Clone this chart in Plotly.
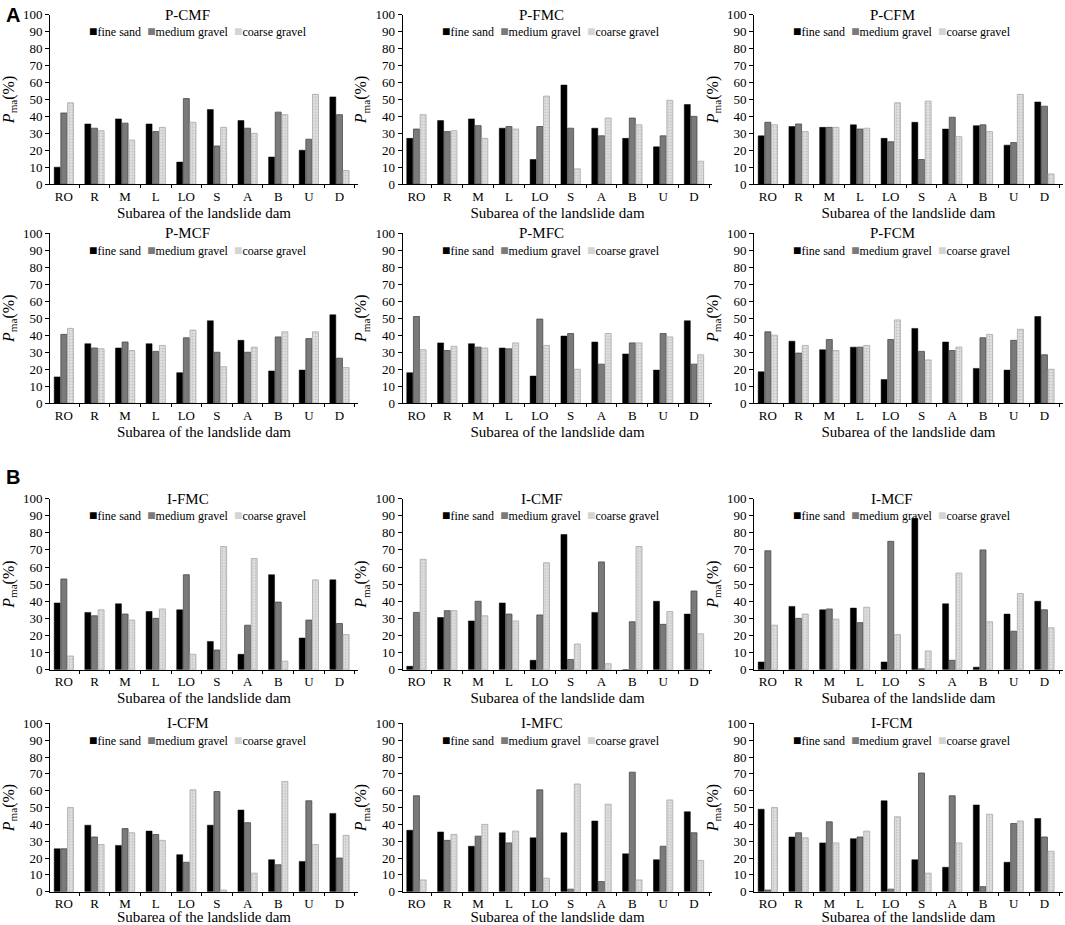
import plotly.graph_objects as go

# subareas of the dam (x categories)
subareas = ["RO", "R", "M", "L", "LO", "S", "A", "B", "U", "D"]
series_names = ["fine sand", "medium gravel", "coarse gravel"]

# --- A: P-series ---
p_cmf_fine = [10, 35.5, 38.5, 35.5, 13, 44, 37.5, 16, 20, 51.5]
p_cmf_medium = [42, 33, 36, 31, 50.5, 22.5, 33, 42.5, 26.5, 41]
p_cmf_coarse = [48, 31.5, 26, 33.5, 36.5, 33.5, 30, 41, 53, 8]

p_fmc_fine = [27, 37.5, 38.5, 33, 14.5, 58.5, 33, 27, 22, 47]
p_fmc_medium = [32.5, 31, 34.5, 34, 34, 33, 28.5, 39, 28.5, 40]
p_fmc_coarse = [41, 31.5, 27, 32.5, 52, 9, 39, 35, 49.5, 13.5]

p_cfm_fine = [28.5, 34, 33.5, 35, 27, 36.5, 32.5, 34.5, 23, 48.5]
p_cfm_medium = [36.5, 35.5, 33.5, 32.5, 25, 14.5, 39.5, 35, 24.5, 46]
p_cfm_coarse = [35, 31, 33.5, 33, 48, 49, 28, 31, 53, 6]

p_mcf_fine = [15.5, 35, 32.5, 35, 18, 48.5, 37, 19, 19.5, 52]
p_mcf_medium = [40.5, 32.5, 36, 30.5, 38.5, 30, 30, 39, 38, 26.5]
p_mcf_coarse = [44, 32, 31, 34, 43, 21.5, 33, 42, 42, 21]

p_mfc_fine = [18, 35.5, 35, 32.5, 16, 39.5, 36, 29, 19.5, 48.5]
p_mfc_medium = [51, 31, 33, 32, 49.5, 41, 23, 35.5, 41, 23]
p_mfc_coarse = [31.5, 33.5, 32.5, 35.5, 34, 20, 41, 35.5, 39, 28.5]

p_fcm_fine = [18.5, 36.5, 31.5, 33, 14, 44, 36, 20.5, 19.5, 51]
p_fcm_medium = [42, 29.5, 37.5, 33, 37.5, 30.5, 31, 38.5, 37, 28.5]
p_fcm_coarse = [40, 34, 31, 34, 49, 25.5, 33, 40.5, 43.5, 20]

# --- B: I-series ---
i_fmc_fine = [39, 33.5, 38.5, 34, 35, 16.5, 9, 55.5, 18.5, 52.5]
i_fmc_medium = [53, 31.5, 32.5, 30, 55.5, 11.5, 26, 39.5, 29, 27]
i_fmc_coarse = [8, 35, 29, 35.5, 9, 72, 65, 5, 52.5, 20.5]

i_cmf_fine = [2, 30.5, 28.5, 39, 5.5, 79, 33.5, 0, 40, 32.5]
i_cmf_medium = [33.5, 34.5, 40, 32.5, 32, 6, 63, 28, 26.5, 46]
i_cmf_coarse = [64.5, 34.5, 31.5, 28.5, 62.5, 15, 3.5, 72, 34, 21]

i_mcf_fine = [4.5, 37, 35, 36, 4.5, 88.5, 38.5, 1.5, 32.5, 40]
i_mcf_medium = [69.5, 30, 35.5, 27.5, 75, 0.5, 5.5, 70, 22.5, 35]
i_mcf_coarse = [26, 32.5, 29.5, 36.5, 20.5, 11, 56.5, 28, 44.5, 24.5]

i_cfm_fine = [25.5, 39.5, 27.5, 36, 22, 39.5, 48.5, 19, 18, 46.5]
i_cfm_medium = [25.5, 32.5, 37.5, 34, 17.5, 59.5, 41, 16, 54, 20]
i_cfm_coarse = [50, 28, 35, 30.5, 60.5, 1, 11, 65.5, 28, 33.5]

i_mfc_fine = [36.5, 35.5, 27, 35, 32, 35, 42, 22.5, 19, 47.5]
i_mfc_medium = [57, 30.5, 33, 29, 60.5, 1.5, 6, 71, 27, 35]
i_mfc_coarse = [7, 34, 40, 36, 8, 64, 52, 7, 54.5, 18.5]

i_fcm_fine = [49, 32.5, 29, 31.5, 54, 19, 14.5, 51.5, 17.5, 43.5]
i_fcm_medium = [1, 35, 41.5, 32.5, 1.5, 70.5, 57, 3, 40.5, 32.5]
i_fcm_coarse = [50, 32, 29, 36, 44.5, 11, 29, 46, 42, 24]

panels = [
    ("P-CMF", p_cmf_fine, p_cmf_medium, p_cmf_coarse),
    ("P-FMC", p_fmc_fine, p_fmc_medium, p_fmc_coarse),
    ("P-CFM", p_cfm_fine, p_cfm_medium, p_cfm_coarse),
    ("P-MCF", p_mcf_fine, p_mcf_medium, p_mcf_coarse),
    ("P-MFC", p_mfc_fine, p_mfc_medium, p_mfc_coarse),
    ("P-FCM", p_fcm_fine, p_fcm_medium, p_fcm_coarse),
    ("I-FMC", i_fmc_fine, i_fmc_medium, i_fmc_coarse),
    ("I-CMF", i_cmf_fine, i_cmf_medium, i_cmf_coarse),
    ("I-MCF", i_mcf_fine, i_mcf_medium, i_mcf_coarse),
    ("I-CFM", i_cfm_fine, i_cfm_medium, i_cfm_coarse),
    ("I-MFC", i_mfc_fine, i_mfc_medium, i_mfc_coarse),
    ("I-FCM", i_fcm_fine, i_fcm_medium, i_fcm_coarse),
]

FONT = "Liberation Serif"
col_domains = [[0.047, 0.336], [0.378, 0.669], [0.708, 0.998]]
row_domains = [[0.801, 0.984], [0.564, 0.748], [0.276, 0.461], [0.036, 0.218]]

bar_colors = ["#000000", "#7a7a7a", "#d4d4d4"]
bar_styles = [
    dict(color=bar_colors[0], line=dict(color="#000000", width=0.5)),
    dict(color=bar_colors[1], line=dict(color="#4a4a4a", width=0.8)),
    dict(color=bar_colors[2], line=dict(color="#a8a8a8", width=0.8),
         pattern=dict(shape=".", fgcolor="#9a9a9a", bgcolor="#dedede", size=3, solidity=0.25)),
]

# compact key drawn as one text line per panel, like the original figure
key_text = "&nbsp;&nbsp;".join(
    f'<span style="color:{col};font-size:14px">■</span>{name}'
    for name, col in zip(series_names, bar_colors)
)

fig = go.Figure()
layout = dict(
    width=1065, height=925,
    margin=dict(l=0, r=0, t=0, b=0, autoexpand=False),
    paper_bgcolor="white", plot_bgcolor="white",
    barmode="group", bargap=0.35, bargroupgap=0.1,
    font=dict(family=FONT, color="black"),
    showlegend=False,
)
annotations = []

for idx, (title, fine, medium, coarse) in enumerate(panels):
    n = "" if idx == 0 else str(idx + 1)
    r, c = divmod(idx, 3)
    xd, yd = col_domains[c], row_domains[r]
    for name, vals, style in zip(series_names, [fine, medium, coarse], bar_styles):
        fig.add_trace(go.Bar(
            x=subareas, y=vals, name=name, marker=style,
            xaxis="x" + n, yaxis="y" + n,
        ))
    layout["xaxis" + n] = dict(
        domain=xd, anchor="y" + n, type="category", range=[-0.45, 9.6],
        showline=True, linecolor="black", linewidth=1,
        ticks="outside", tickson="boundaries", ticklen=3, tickcolor="black",
        tickfont=dict(size=13, family=FONT), showgrid=False, zeroline=False,
        title=dict(text="Subarea of the landslide dam", font=dict(size=15, family=FONT), standoff=4),
    )
    layout["yaxis" + n] = dict(
        domain=yd, anchor="x" + n, range=[0, 100], dtick=10,
        showline=True, linecolor="black", linewidth=1,
        ticks="outside", ticklen=4, tickcolor="black",
        tickfont=dict(size=13, family=FONT), showgrid=False, zeroline=False,
        title=dict(text="<i>P</i><sub>ma</sub>(%)", font=dict(size=16, family=FONT), standoff=4),
    )
    xc = (xd[0] + xd[1]) / 2
    annotations.append(dict(
        text=title, xref="paper", yref="paper",
        x=xc - 0.015, y=yd[1], xanchor="center", yanchor="middle",
        showarrow=False, font=dict(size=15, family=FONT),
    ))
    annotations.append(dict(
        text=key_text, xref="paper", yref="paper",
        x=xc - 0.006, y=yd[0] + (yd[1] - yd[0]) * 0.9, xanchor="center", yanchor="middle",
        showarrow=False, font=dict(size=12, family=FONT),
    ))

annotations.append(dict(text="<b>A</b>", xref="paper", yref="paper", x=0.004, y=0.984,
                        xanchor="left", yanchor="middle", showarrow=False,
                        font=dict(size=20, family="Liberation Sans")))
annotations.append(dict(text="<b>B</b>", xref="paper", yref="paper", x=0.004, y=0.484,
                        xanchor="left", yanchor="middle", showarrow=False,
                        font=dict(size=20, family="Liberation Sans")))
layout["annotations"] = annotations
fig.update_layout(**layout)

# drop the page's default body margin so the figure sits at the window corner
fig.write_html("out.html", config={"displayModeBar": False},
               post_script="document.body.style.margin = '0';")
